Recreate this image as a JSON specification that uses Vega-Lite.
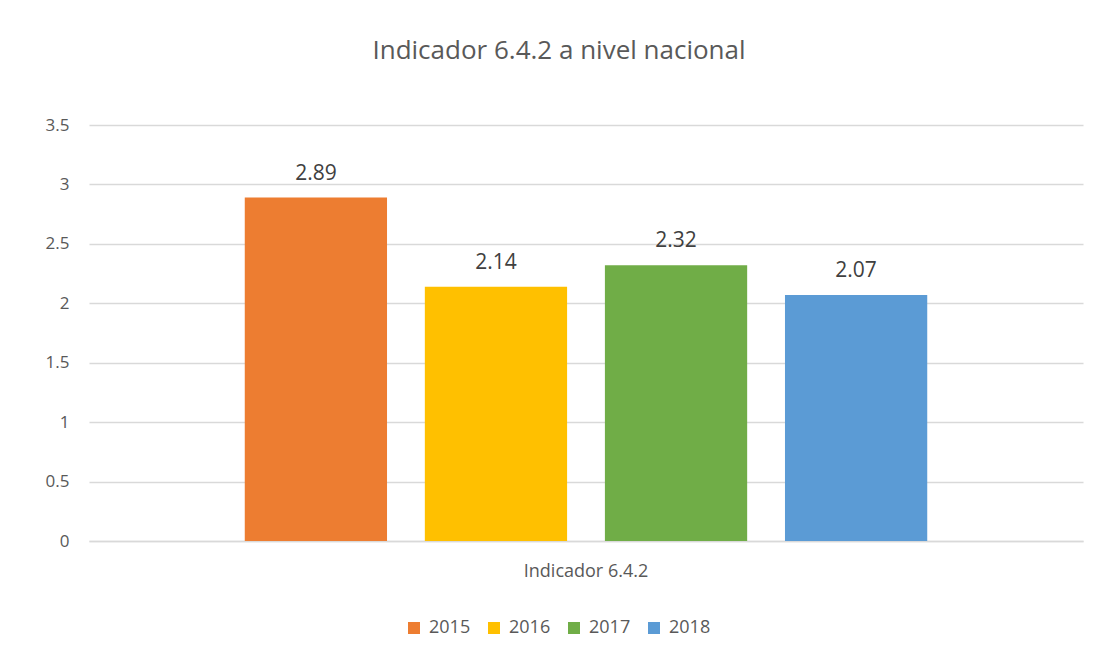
{
  "$schema": "https://vega.github.io/schema/vega-lite/v6.json",
  "width": 994,
  "height": 416,
  "autosize": {"type": "none"},
  "padding": {"left": 89, "top": 125, "right": 17, "bottom": 118},
  "background": "white",
  "title": {
    "text": "Indicador 6.4.2 a nivel nacional",
    "font": "Open Sans",
    "fontSize": 26,
    "fontWeight": "normal",
    "color": "#595959",
    "anchor": "middle",
    "offset": 52,
    "dx": -27
  },
  "data": {
    "values": [
      {"categoria": "Indicador 6.4.2", "anio": "2015", "valor": 2.89},
      {"categoria": "Indicador 6.4.2", "anio": "2016", "valor": 2.14},
      {"categoria": "Indicador 6.4.2", "anio": "2017", "valor": 2.32},
      {"categoria": "Indicador 6.4.2", "anio": "2018", "valor": 2.07}
    ]
  },
  "encoding": {
    "x": {
      "field": "categoria",
      "type": "nominal",
      "title": null,
      "scale": {"paddingInner": 0, "paddingOuter": 0.19},
      "axis": {
        "labelAngle": 0,
        "labelFont": "Open Sans",
        "labelFontSize": 18,
        "labelColor": "#595959",
        "labelPadding": 21,
        "ticks": false,
        "domainColor": "#D9D9D9",
        "domainWidth": 1.5
      }
    },
    "xOffset": {
      "field": "anio",
      "type": "nominal",
      "scale": {"paddingInner": 0.21, "paddingOuter": 0.105}
    },
    "y": {
      "field": "valor",
      "type": "quantitative",
      "title": null,
      "scale": {"domain": [0, 3.5]},
      "axis": {
        "values": [0, 0.5, 1, 1.5, 2, 2.5, 3, 3.5],
        "format": "~g",
        "labelFont": "Open Sans",
        "labelFontSize": 17,
        "labelColor": "#595959",
        "labelPadding": 20,
        "ticks": false,
        "domain": false,
        "gridColor": "#D9D9D9",
        "gridWidth": 1.5
      }
    }
  },
  "layer": [
    {
      "mark": {"type": "bar"},
      "encoding": {
        "color": {
          "field": "anio",
          "type": "nominal",
          "title": null,
          "scale": {"domain": ["2015", "2016", "2017", "2018"], "range": ["#ED7D31", "#FFC000", "#70AD47", "#5B9BD5"]},
          "legend": {
            "orient": "none",
            "legendX": 316,
            "legendY": 494,
            "direction": "horizontal",
            "symbolType": "square",
            "symbolSize": 144,
            "symbolStrokeWidth": 0,
            "labelFont": "Open Sans",
            "labelFontSize": 18,
            "labelColor": "#595959",
            "columnPadding": 14,
            "labelOffset": 6
          }
        }
      }
    },
    {
      "mark": {"type": "text", "dy": -24, "font": "Open Sans", "fontSize": 21, "color": "#404040"},
      "encoding": {
        "text": {"field": "valor", "type": "quantitative", "format": ".2f"}
      }
    }
  ],
  "config": {
    "view": {"stroke": null}
  }
}
